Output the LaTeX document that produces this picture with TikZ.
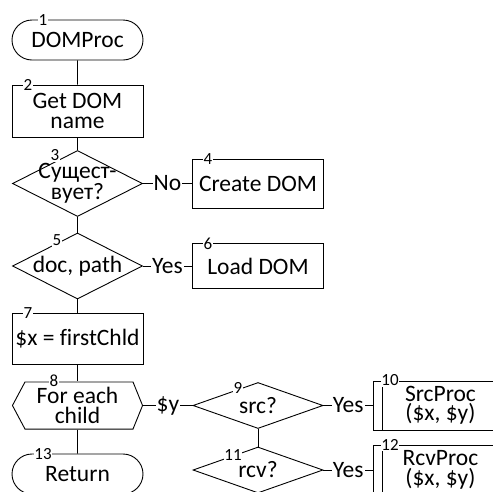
\documentclass[tikz,border=0pt]{standalone}
\usepackage{fontspec}
\setmainfont{Carlito}[Ligatures=NoCommon]
\usetikzlibrary{shapes.geometric,shapes.misc}

\tikzset{
  term/.style={draw, rounded rectangle, minimum width=131pt, minimum height=40pt, inner sep=0pt},
  proc/.style={draw, rectangle, minimum width=131pt, minimum height=51pt, inner sep=0pt, align=center},
  decision/.style={draw, diamond, minimum width=130pt, minimum height=66pt, inner xsep=-28pt, inner ysep=-8pt, align=center},
  loopbox/.style={rectangle, minimum width=131pt, minimum height=48pt, inner sep=0pt, align=center,
    path picture={\draw ([xshift=13pt,yshift=-0.45pt]path picture bounding box.north west)
      -- ([xshift=-10pt,yshift=-0.45pt]path picture bounding box.north east)
      -- ([xshift=-0.45pt]path picture bounding box.east)
      -- ([xshift=-10pt,yshift=0.45pt]path picture bounding box.south east)
      -- ([xshift=13pt,yshift=0.45pt]path picture bounding box.south west)
      -- ([xshift=0.45pt]path picture bounding box.west) -- cycle;}},
  subproc/.style={draw, rectangle, anchor=west, minimum width=134pt, minimum height=49pt, inner sep=0pt, align=center,
    path picture={\draw ([xshift=9pt]path picture bounding box.north west) -- ([xshift=9pt]path picture bounding box.south west);}},
  num/.style={fill=white, inner sep=0.6pt, font=\fontsize{17}{17}\selectfont},
  answer/.style={fill=white, inner sep=1pt}
}

\begin{document}
\begin{tikzpicture}[x=1pt, y=-1pt, line width=0.9pt, font=\fontsize{23.5}{19.5}\selectfont]
  \useasboundingbox (0,0) rectangle (493,491);
  \clip (0,0) rectangle (493,491);

  % Colonne principale
  \node[term] (start) at (77.5,40) {DOMProc};
  \node[proc, minimum height=52pt] (getname) at (77.5,111) {Get DOM\\name};
  \node[decision] (exists) at (77.5,183.5) {Сущест-\\вует?};
  \node[decision] (docpath) at (77.5,266) {doc, path};
  \node[proc] (first) at (77.5,338.5) {\$x = firstChld};
  \node[loopbox] (each) at (77.5,405.5) {For each\\child};
  \node[term] (return) at (77.5,474) {Return};

  % Blocs DOM
  \node[proc, minimum height=49pt] (create) at (258,183.5) {Create DOM};
  \node[proc, minimum height=45pt] (load) at (258,266) {Load DOM};

  % Corps de la boucle
  \node[decision, minimum height=46pt] (src) at (258,405.5) {src?};
  \node[decision, minimum height=46pt] (rcv) at (258,470) {rcv?};
  \node[subproc] (srcproc) at (373,405.5) {SrcProc\\(\$x, \$y)};
  \node[subproc] (rcvproc) at (373,470) {RcvProc\\(\$x, \$y)};

  % Numeros des blocs
  \node[num] (n1) at (43,20) {1};
  \node[num] (n2) at (28,85) {2};
  \node[num] (n3) at (55,155.5) {3};
  \node[num] (n4) at (208,159) {4};
  \node[num] (n5) at (57,240.5) {5};
  \node[num] (n6) at (208,243.5) {6};
  \node[num] (n7) at (28,313) {7};
  \node[num] (n8) at (54,380.5) {8};
  \node[num] (n9) at (238,387.5) {9};
  \node[num] (n10) at (390,380.5) {10};
  \node[num] (n11) at (233,455) {11};
  \node[num] (n12) at (390,445) {12};
  \node[num] (n13) at (43,454) {13};

  % Liaisons verticales
  \draw (start) -- (getname);
  \draw (getname) -- (exists);
  \draw (exists) -- (docpath);
  \draw (docpath) -- (first);
  \draw (first) -- (each);
  \draw (each) -- (return);
  \draw (src) -- (rcv);

  % Liaisons horizontales
  \draw (exists) -- node[answer] {No} (create);
  \draw (docpath) -- node[answer] {Yes} (load);
  \draw (each) -- node[answer] {\$y} (src);
  \draw (src) -- node[answer] {Yes} (srcproc);
  \draw (rcv) -- node[answer] {Yes} (rcvproc);

\end{tikzpicture}
\end{document}
